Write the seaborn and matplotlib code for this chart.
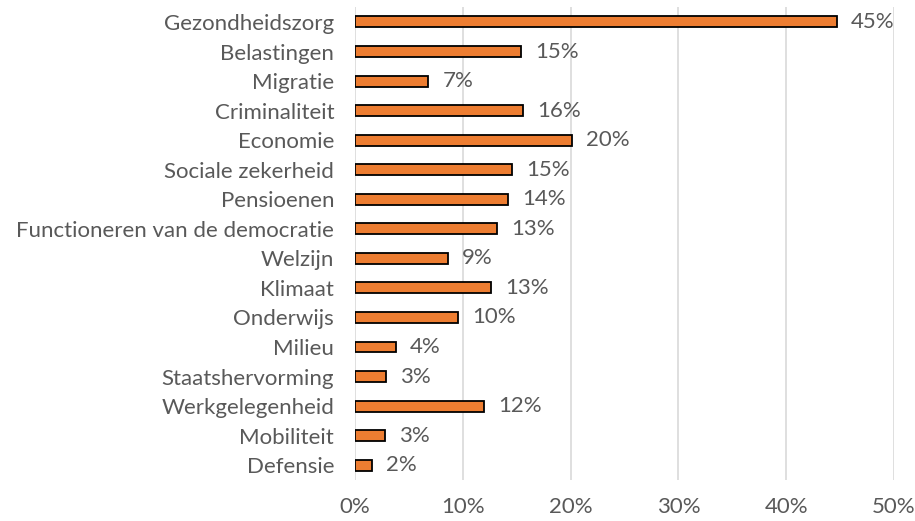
import matplotlib
matplotlib.use("Agg")
import matplotlib.pyplot as plt
import seaborn as sns
import pandas as pd
from matplotlib.ticker import FuncFormatter

categories = ["Gezondheidszorg", "Belastingen", "Migratie", "Criminaliteit", "Economie",
              "Sociale zekerheid", "Pensioenen", "Functioneren van de democratie", "Welzijn",
              "Klimaat", "Onderwijs", "Milieu", "Staatshervorming", "Werkgelegenheid",
              "Mobiliteit", "Defensie"]
values = [44.7, 15.4, 6.8, 15.6, 20.1, 14.6, 14.2, 13.2, 8.6, 12.6, 9.6, 3.8, 2.9, 12.0, 2.8, 1.6]
labels = ["45%", "15%", "7%", "16%", "20%", "15%", "14%", "13%", "9%", "13%", "10%",
          "4%", "3%", "12%", "3%", "2%"]
xticks = [0, 10, 20, 30, 40, 50]

sns.set_theme(style="white")
plt.rcParams["font.family"] = ["Lato", "DejaVu Sans"]

df = pd.DataFrame({"cat": categories, "val": values})

fig = plt.figure(figsize=(9.15, 5.21), dpi=100)
ax = fig.add_axes([0.388, 0.0787, 0.589, 0.9075])

sns.barplot(data=df, x="val", y="cat", orient="h", color="#ED7D31", saturation=1,
            width=0.37, edgecolor="black", linewidth=1.3, ax=ax, zorder=3)

txt = "#595959"
fs = 16
ax.set_xlim(0, 50)
ax.set_xticks(xticks)
ax.xaxis.set_major_formatter(FuncFormatter(lambda v, p: f"{v:.0f}%"))
ax.grid(axis="x", color="#D9D9D9", linewidth=1.2, zorder=0)
ax.grid(axis="y", visible=False)
for s in ax.spines.values():
    s.set_visible(False)
ax.set_xlabel("")
ax.set_ylabel("")
ax.tick_params(axis="both", length=0, labelsize=fs, labelcolor=txt)
ax.tick_params(axis="x", pad=12)
ax.tick_params(axis="y", pad=15)

for i, (v, l) in enumerate(zip(values, labels)):
    ax.text(v + 1.3, i, l, va="center", ha="left", fontsize=fs, color=txt, zorder=4)

fig.savefig("out.png", dpi=100)
